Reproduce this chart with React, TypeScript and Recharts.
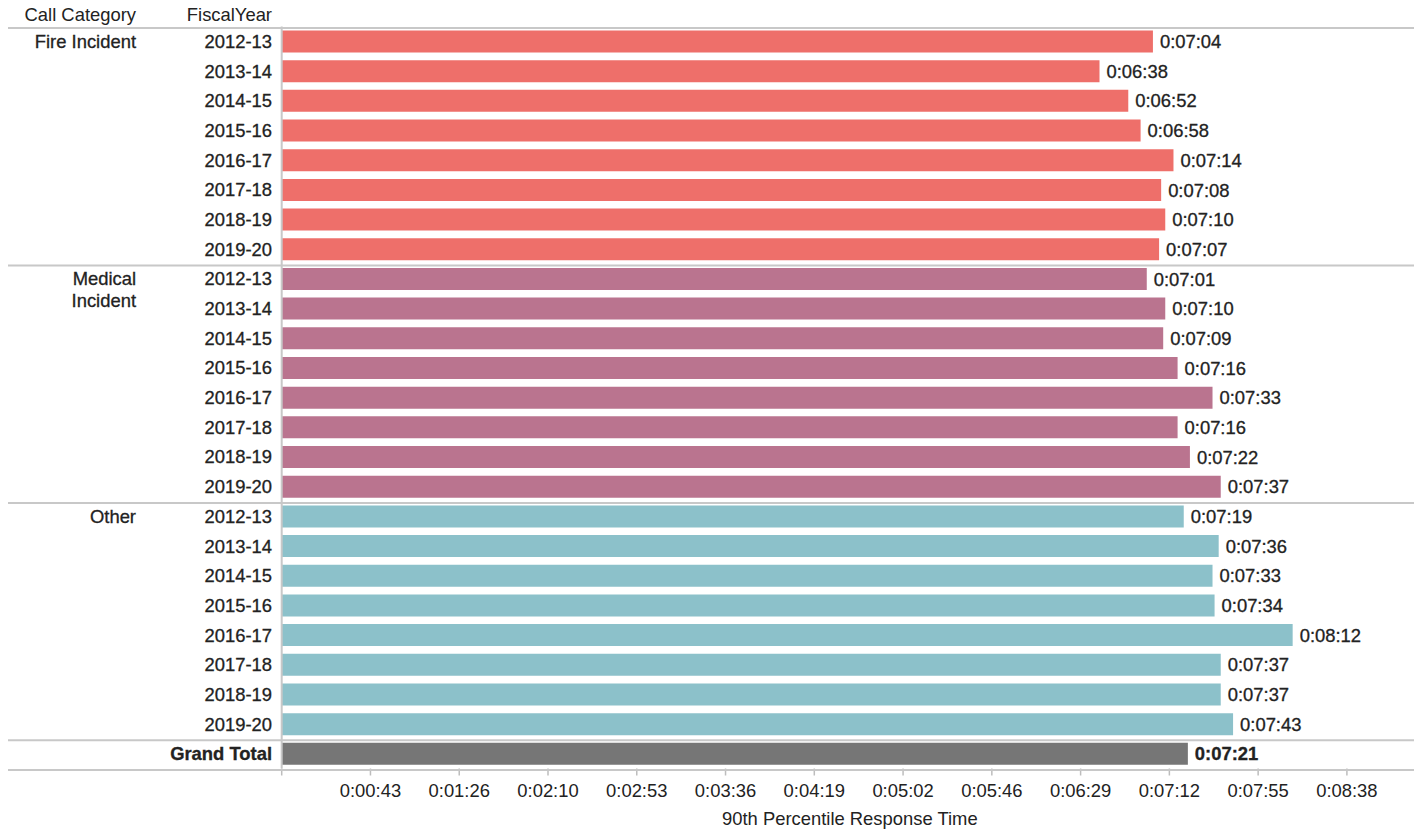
import { BarChart, Bar, XAxis, YAxis, Cell, LabelList } from 'recharts';

const CATEGORIES = ['Fire Incident', 'Medical Incident', 'Other'];
const FISCAL_YEARS = ['2012-13', '2013-14', '2014-15', '2015-16', '2016-17', '2017-18', '2018-19', '2019-20'];

// 90th percentile response time, in seconds
const FIRE_SECONDS = [424, 398, 412, 418, 434, 428, 430, 427];
const MEDICAL_SECONDS = [421, 430, 429, 436, 453, 436, 442, 457];
const OTHER_SECONDS = [439, 456, 453, 454, 492, 457, 457, 463];
const GRAND_TOTAL_SECONDS = 441;

const X_TICKS = [0, 43.2, 86.4, 129.6, 172.8, 216, 259.2, 302.4, 345.6, 388.8, 432, 475.2, 518.4];

const COLORS: Record<string, string> = {
  'Fire Incident': '#EE6F6A',
  'Medical Incident': '#BA748F',
  Other: '#8CC1CA',
  'Grand Total': '#767676',
};

const LABEL_LINES: Record<string, string[]> = {
  'Medical Incident': ['Medical', 'Incident'],
};

const FONT = '"Liberation Sans", Arial, sans-serif';
const TEXT = '#222';
const RULE = '#c8c8c8';
const FS = 18.4;
const HEAVY = { stroke: TEXT, strokeWidth: 0.3 };

// svg is pulled back over the body margin so its coordinates match the page
const W = 1422;
const H = 830;
const MARGIN = { top: 26.5, right: 4, bottom: 3.5, left: 0 };
const Y_WIDTH = 281.7;
const X_HEIGHT = 58;
const PLOT_RIGHT = W - MARGIN.right;
const PLOT_BOTTOM = H - MARGIN.bottom - X_HEIGHT;

const seriesByCategory = [FIRE_SECONDS, MEDICAL_SECONDS, OTHER_SECONDS];

type Row = { key: string; category: string; year: string; value: number; first: boolean };

const rows: Row[] = [];
CATEGORIES.forEach((cat, ci) => {
  FISCAL_YEARS.forEach((year, yi) => {
    rows.push({ key: `${cat}|${year}`, category: cat, year, value: seriesByCategory[ci][yi], first: yi === 0 });
  });
});
rows.push({ key: 'Grand Total', category: 'Grand Total', year: 'Grand Total', value: GRAND_TOTAL_SECONDS, first: true });

const ROW_H = (PLOT_BOTTOM - MARGIN.top) / rows.length;
const rowByKey = new Map(rows.map((r) => [r.key, r]));

function formatTime(sec: number) {
  const s = Math.round(sec);
  const h = Math.floor(s / 3600);
  const m = Math.floor((s % 3600) / 60);
  const ss = s % 60;
  return `${h}:${String(m).padStart(2, '0')}:${String(ss).padStart(2, '0')}`;
}

function RowTick(props: any) {
  const { y, payload } = props;
  const row = rowByKey.get(payload.value);
  if (!row) return null;
  const top = y - ROW_H / 2 + 1.5;
  const isTotal = row.category === 'Grand Total';
  const isFirstRow = row.key === rows[0].key;
  const base = 6.6;
  return (
    <g>
      {isFirstRow && (
        <>
          <text x={136} y={21.3} textAnchor="end" fontSize={FS} fontFamily={FONT} fill={TEXT}>
            Call Category
          </text>
          <text x={272} y={21.3} textAnchor="end" fontSize={FS} fontFamily={FONT} fill={TEXT}>
            FiscalYear
          </text>
          <line x1={PLOT_RIGHT - 1} x2={PLOT_RIGHT - 1} y1={top} y2={PLOT_BOTTOM + 1.5} stroke={RULE} strokeWidth={2} />
        </>
      )}
      {row.first && <line x1={8} x2={PLOT_RIGHT} y1={top} y2={top} stroke={RULE} strokeWidth={2} />}
      {isTotal && <line x1={8} x2={PLOT_RIGHT} y1={top + ROW_H} y2={top + ROW_H} stroke={RULE} strokeWidth={2} />}
      {row.first && !isTotal &&
        (LABEL_LINES[row.category] || [row.category]).map((line, i) => (
          <text key={i} x={136} y={y + base + i * 22} textAnchor="end" fontSize={FS} fontFamily={FONT} fill={TEXT} {...HEAVY}>
            {line}
          </text>
        ))}
      <text
        x={272}
        y={y + base}
        textAnchor="end"
        fontSize={FS}
        fontFamily={FONT}
        fontWeight={isTotal ? 'bold' : 'normal'}
        fill={TEXT}
        {...HEAVY}
      >
        {row.year}
      </text>
    </g>
  );
}

function TimeTick(props: any) {
  const { x, y, payload } = props;
  if (payload.value === 0) return null;
  return (
    <text x={x} y={Number(y) + 13.5} textAnchor="middle" fontSize={FS} fontFamily={FONT} fill={TEXT}>
      {formatTime(payload.value)}
    </text>
  );
}

function ValueLabel(props: any) {
  const { x, y, width, height, value, index } = props;
  const isTotal = rows[index]?.category === 'Grand Total';
  return (
    <text
      x={Number(x) + Number(width) + 7}
      y={Number(y) + Number(height) / 2 + 6.6}
      fontSize={FS}
      fontFamily={FONT}
      fontWeight={isTotal ? 'bold' : 'normal'}
      fill={TEXT}
      {...HEAVY}
    >
      {formatTime(Number(value))}
    </text>
  );
}

export default function App() {
  return (
    <div style={{ width: W, height: H, margin: '-8px 0 0 -8px' }}>
      <BarChart width={W} height={H} data={rows} layout="vertical" margin={MARGIN} style={{ fontFamily: FONT }}>
        <XAxis
          type="number"
          domain={[0, 553]}
          ticks={X_TICKS}
          interval={0}
          axisLine={false}
          tickLine={{ stroke: '#bdbdbd', strokeWidth: 1.5 }}
          tickSize={7}
          tickMargin={8}
          height={X_HEIGHT}
          tick={<TimeTick />}
          label={{
            value: '90th Percentile Response Time',
            position: 'insideBottom',
            offset: 1.5,
            fill: TEXT,
            fontSize: FS,
            fontFamily: FONT,
          }}
        />
        <YAxis
          type="category"
          dataKey="key"
          width={Y_WIDTH}
          interval={0}
          axisLine={{ stroke: RULE, strokeWidth: 2 }}
          tickLine={false}
          tick={<RowTick />}
        />
        <Bar dataKey="value" barSize={22} isAnimationActive={false}>
          {rows.map((r) => (
            <Cell key={r.key} fill={COLORS[r.category]} />
          ))}
          <LabelList dataKey="value" content={<ValueLabel />} />
        </Bar>
      </BarChart>
    </div>
  );
}
